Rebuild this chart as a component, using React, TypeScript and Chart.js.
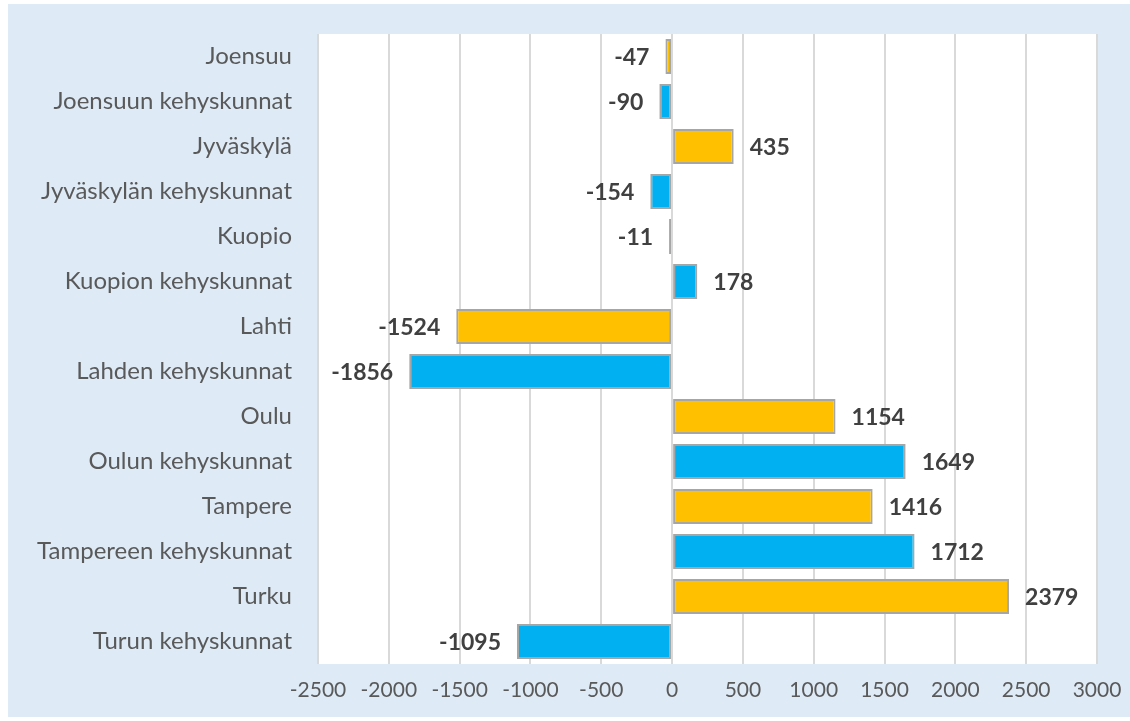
import React, { useEffect, useRef } from "react";
import { Chart, registerables } from "chart.js";

Chart.register(...registerables);

const categories = [
  "Joensuu",
  "Joensuun kehyskunnat",
  "Jyväskylä",
  "Jyväskylän kehyskunnat",
  "Kuopio",
  "Kuopion kehyskunnat",
  "Lahti",
  "Lahden kehyskunnat",
  "Oulu",
  "Oulun kehyskunnat",
  "Tampere",
  "Tampereen kehyskunnat",
  "Turku",
  "Turun kehyskunnat",
];
const values = [-47, -90, 435, -154, -11, 178, -1524, -1856, 1154, 1649, 1416, 1712, 2379, -1095];
const cityColor = "#FFC000";
const regionColor = "#00B0F0";
const barColors = categories.map((c) => (c.includes("kehyskunnat") ? regionColor : cityColor));

const FONT = "Lato, 'Open Sans', sans-serif";

const bgPlugin = {
  id: "bgPlugin",
  beforeDraw(chart: any) {
    const { ctx, chartArea } = chart;
    ctx.save();
    ctx.fillStyle = "#ffffff";
    ctx.fillRect(0, 0, chart.width, chart.height);
    ctx.fillStyle = "#DEEAF6";
    ctx.fillRect(8, 4, chart.width - 8, 713);
    ctx.fillStyle = "#ffffff";
    ctx.fillRect(chartArea.left, chartArea.top, chartArea.right - chartArea.left, chartArea.bottom - chartArea.top);
    ctx.restore();
  },
};

const labelPlugin = {
  id: "labelPlugin",
  afterDatasetsDraw(chart: any) {
    const { ctx } = chart;
    const meta = chart.getDatasetMeta(0);
    ctx.save();
    ctx.font = `bold 23px ${FONT}`;
    ctx.fillStyle = "#404040";
    ctx.textBaseline = "middle";
    meta.data.forEach((bar: any, i: number) => {
      const v = values[i];
      const neg = v < 0;
      ctx.textAlign = neg ? "right" : "left";
      const x = neg ? Math.min(bar.x, bar.base) - 16 : Math.max(bar.x, bar.base) + 16;
      ctx.fillText(String(v), x, bar.y + 1);
    });
    ctx.restore();
  },
};

export default function App() {
  const ref = useRef<HTMLCanvasElement>(null);
  useEffect(() => {
    document.body.style.margin = "0";
    const chart = new Chart(ref.current!, {
      type: "bar",
      data: {
        labels: categories,
        datasets: [
          {
            data: values,
            backgroundColor: barColors,
            borderColor: "#A6A6A6",
            borderWidth: 2,
            borderSkipped: false,
            barPercentage: 0.78,
            categoryPercentage: 1,
            minBarLength: 3,
          },
        ],
      },
      options: {
        indexAxis: "y",
        animation: false,
        responsive: false,
        maintainAspectRatio: false,
        layout: { padding: { top: 34, right: 33, left: 0, bottom: 0 } },
        plugins: { legend: { display: false }, tooltip: { enabled: false } },
        scales: {
          x: {
            min: -2500,
            max: 3000,
            ticks: {
              stepSize: 500,
              color: "#595959",
              font: { family: FONT, size: 21 },
              padding: 14,
              maxRotation: 0,
              autoSkip: false,
              callback: (v: any) => String(v),
            },
            grid: { color: "#D9D9D9", lineWidth: 2, drawTicks: false },
            border: { display: false },
            afterFit(scale: any) {
              scale.height = 57;
              scale.paddingLeft = 0;
              scale.paddingRight = 0;
            },
          },
          y: {
            ticks: {
              color: "#595959",
              font: { family: FONT, size: 24 },
              padding: 26,
            },
            grid: { display: false, drawTicks: false },
            border: { display: false },
            afterFit(scale: any) {
              scale.width = 318;
              scale.paddingTop = 0;
              scale.paddingBottom = 0;
            },
          },
        },
      },
      plugins: [bgPlugin, labelPlugin],
    });
    return () => chart.destroy();
  }, []);
  return <canvas ref={ref} width={1130} height={721} style={{ display: "block" }} />;
}
